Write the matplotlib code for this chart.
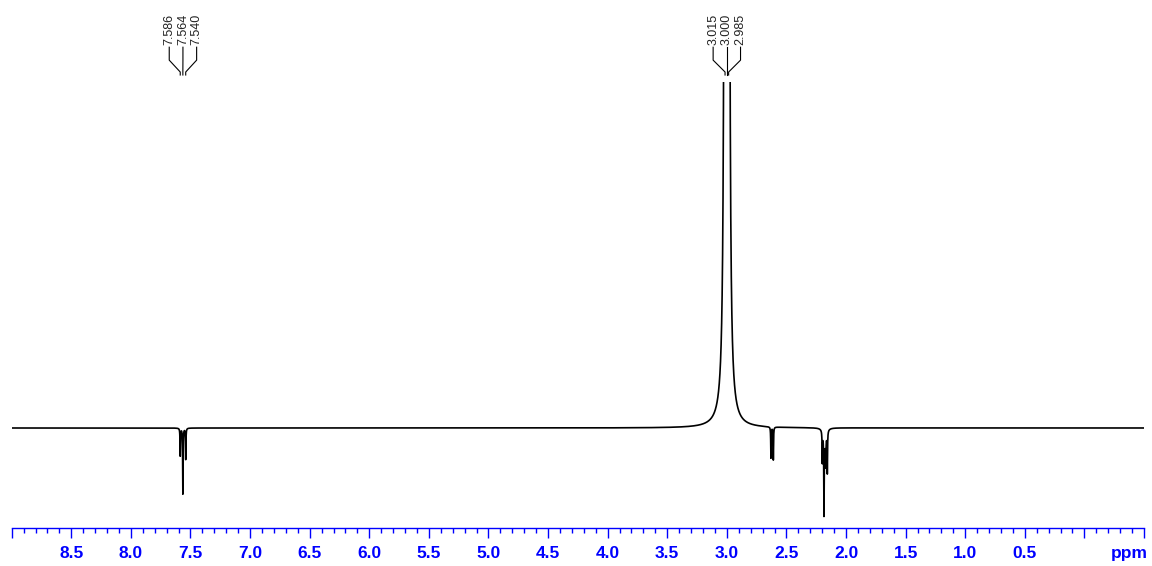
import numpy as np
import matplotlib.pyplot as plt
from matplotlib.ticker import MultipleLocator

plt.rcParams['font.family'] = ['Liberation Sans', 'DejaVu Sans']

# peak list: position (ppm), intensity, half width (ppm)
peak_ppm = [7.586, 7.564, 7.540, 3.015, 3.000, 2.985,
            2.630, 2.610, 2.199, 2.185, 2.170, 2.157, 2.177]
peak_int = [-8.0, -19.0, -9.0, 480.0, 960.0, 480.0,
            -9.0, -9.5, -9.0, -22.5, -8.0, -12.0, -4.0]
peak_hw = [0.002, 0.002, 0.002, 0.005, 0.005, 0.005,
           0.002, 0.002, 0.002, 0.002, 0.002, 0.002, 0.012]

# multiplets with printed peak labels
label_groups = [
    [7.586, 7.564, 7.540],
    [3.015, 3.000, 2.985],
]

tick_vals = [9.0, 8.5, 8.0, 7.5, 7.0, 6.5, 6.0, 5.5, 5.0, 4.5, 4.0,
             3.5, 3.0, 2.5, 2.0, 1.5, 1.0, 0.5, 0.0, -0.5]
tick_labels = ['', '8.5', '8.0', '7.5', '7.0', '6.5', '6.0', '5.5', '5.0',
               '4.5', '4.0', '3.5', '3.0', '2.5', '2.0', '1.5', '1.0',
               '0.5', '', '']

X_LEFT, X_RIGHT = 9.0, -0.5
BLUE = '#0000ff'

ppm = np.linspace(X_LEFT, X_RIGHT, 19001)
spec = np.zeros_like(ppm)
for p, h, w in zip(peak_ppm, peak_int, peak_hw):
    spec += h * w**2 / ((ppm - p)**2 + w**2)

fig = plt.figure(figsize=(11.52, 5.66), dpi=100)
ax = fig.add_axes([11.7 / 1152, 1 - 528 / 566, (1144 - 11.7) / 1152, (528 - 82) / 566])

ax.plot(ppm, spec, color='black', lw=1.2)
ax.set_xlim(X_LEFT, X_RIGHT)
ax.set_ylim(-28.9, 100)

for s in ['top', 'left', 'right']:
    ax.spines[s].set_visible(False)
ax.spines['bottom'].set_color(BLUE)
ax.spines['bottom'].set_linewidth(1.0)
ax.set_yticks([])
ax.set_xticks(tick_vals, labels=tick_labels)
ax.xaxis.set_minor_locator(MultipleLocator(0.1))
ax.tick_params(axis='x', which='major', length=7.2, width=1.0, color=BLUE,
               labelcolor=BLUE, labelsize=12.5, pad=6)
ax.tick_params(axis='x', which='minor', length=3.6, width=1.0, color=BLUE)
for lbl in ax.get_xticklabels():
    lbl.set_fontweight('bold')

ax.text(-0.38, -0.068, 'ppm', transform=ax.get_xaxis_transform(),
        ha='center', va='baseline', fontsize=12.5, fontweight='bold', color=BLUE)

# peak labels with leader lines above the plot
fig.canvas.draw()
px_per_ppm = ax.get_window_extent().width / (X_LEFT - X_RIGHT)
spacing = 13.7 / px_per_ppm
tr = ax.get_xaxis_transform()
for group in label_groups:
    centre = np.mean(group)
    n = len(group)
    for i, p in enumerate(group):
        lx = centre + ((n - 1) / 2 - i) * spacing
        ax.plot([lx, lx, p, p], [1.078, 1.049, 1.0224, 1.0157], transform=tr,
                color='black', lw=0.8, clip_on=False)
        ax.text(lx, 1.082, f'{p:.3f}', transform=tr, rotation=90,
                ha='center', va='bottom', fontsize=9, color='#222222')

fig.savefig('out.png', dpi=100)
